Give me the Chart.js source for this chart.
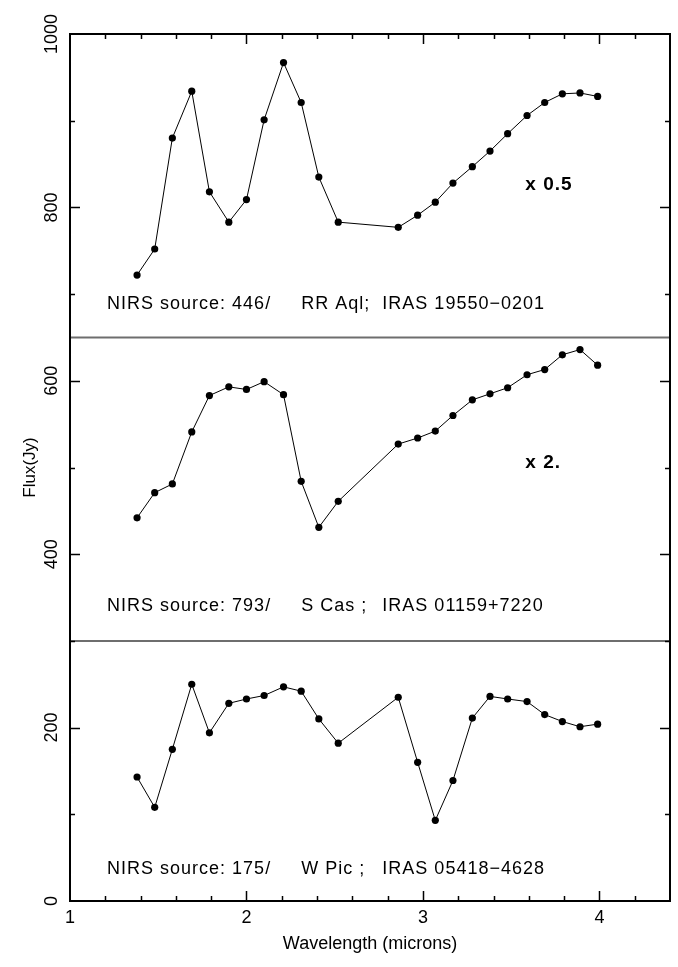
<!DOCTYPE html>
<html>
<head>
<meta charset="utf-8">
<script src="https://cdn.jsdelivr.net/npm/chart.js@4.4.1/dist/chart.umd.min.js"></script>
<style>
  html, body { margin: 0; padding: 0; background: #fff; }
  #wrap { width: 678px; height: 967px; position: relative; }
</style>
</head>
<body>
<div id="wrap"><canvas id="fluxChart"></canvas></div>
<script>
// wavelengths (microns), same grid for all three sources
const wavelengths = [1.38, 1.48, 1.58, 1.69, 1.79, 1.90, 2.00, 2.10, 2.21, 2.31, 2.41, 2.52,
  2.86, 2.97, 3.07, 3.17, 3.28, 3.38, 3.48, 3.59, 3.69, 3.79, 3.89, 3.99];

// flux values as plotted (already scaled / offset in the panels)
const rrAql = [722, 752, 880, 934, 818, 783, 809, 901, 967, 921, 835, 783,
  777, 791, 806, 828, 847, 865, 885, 906, 921, 931, 932, 928];
const sCas = [442, 471, 481, 541, 583, 593, 590, 599, 584, 484, 431, 461,
  527, 534, 542, 560, 578, 585, 592, 607, 613, 630, 636, 618];
const wPic = [143, 108, 175, 250, 194, 228, 233, 237, 247, 242, 210, 182,
  235, 160, 93, 139, 211, 236, 233, 230, 215, 207, 201, 204];

const panelBreaks = [650, 300];

const xTicks = [1, 2, 3, 4];
const yTicks = [0, 200, 400, 600, 800, 1000];

// label pieces: [x, y, text]
const sourceLabels = [
  [1.21, 688, "NIRS source: 446/"], [2.31, 688, "RR Aql;"], [2.77, 688, "IRAS 19550\u22120201"],
  [1.21, 340, "NIRS source: 793/"], [2.31, 340, "S Cas ;"], [2.77, 340, "IRAS 01159+7220"],
  [1.21, 37, "NIRS source: 175/"], [2.31, 37, "W Pic ;"], [2.77, 37, "IRAS 05418\u22124628"]
];
const scaleLabels = [[3.58, 826, "x 0.5"], [3.58, 505, "x 2."]];

const FONT = "Liberation Sans, Arial, Helvetica, sans-serif";

function toPoints(values) {
  return values.map((v, i) => ({ x: wavelengths[i], y: v }));
}

function seriesDataset(values) {
  return {
    data: toPoints(values),
    showLine: true,
    borderColor: "#000",
    borderWidth: 1,
    backgroundColor: "#000",
    pointBackgroundColor: "#000",
    pointBorderWidth: 0,
    pointRadius: 3.6,
    tension: 0
  };
}

function breakDataset(y) {
  return {
    data: [{ x: 1, y: y }, { x: 4.4, y: y }],
    showLine: true,
    borderColor: "#6e6e6e",
    borderWidth: 2,
    pointRadius: 0,
    tension: 0
  };
}

const framePlugin = {
  id: "frame",
  afterDraw(chart) {
    const ctx = chart.ctx;
    const area = chart.chartArea;
    const xs = chart.scales.x;
    const ys = chart.scales.y;

    ctx.save();
    ctx.strokeStyle = "#000";
    ctx.lineWidth = 2;
    ctx.strokeRect(area.left, area.top, area.right - area.left, area.bottom - area.top);

    // inward ticks on all four sides
    ctx.lineWidth = 1.5;
    for (let v = 1.2; v < 4.4; v += 0.2) {
      const px = Math.round(xs.getPixelForValue(v)) + 0.5;
      const major = Math.abs(v - Math.round(v)) < 0.01;
      const len = major ? 10 : 5;
      ctx.beginPath();
      ctx.moveTo(px, area.bottom); ctx.lineTo(px, area.bottom - len);
      ctx.moveTo(px, area.top); ctx.lineTo(px, area.top + len);
      ctx.stroke();
    }
    for (let v = 100; v < 1000; v += 100) {
      const py = Math.round(ys.getPixelForValue(v)) + 0.5;
      const len = v % 200 === 0 ? 10 : 5;
      ctx.beginPath();
      ctx.moveTo(area.left, py); ctx.lineTo(area.left + len, py);
      ctx.moveTo(area.right, py); ctx.lineTo(area.right - len, py);
      ctx.stroke();
    }

    ctx.fillStyle = "#000";
    ctx.font = "18px " + FONT;
    ctx.textAlign = "center";
    ctx.textBaseline = "middle";
    xTicks.forEach(v => {
      ctx.fillText(String(v), xs.getPixelForValue(v), area.bottom + 17);
    });
    ctx.fillText("Wavelength (microns)", (area.left + area.right) / 2, area.bottom + 43);

    yTicks.forEach(v => {
      ctx.save();
      ctx.translate(52, ys.getPixelForValue(v));
      ctx.rotate(-Math.PI / 2);
      ctx.fillText(String(v), 0, 0);
      ctx.restore();
    });
    ctx.save();
    ctx.translate(30, (area.top + area.bottom) / 2);
    ctx.rotate(-Math.PI / 2);
    ctx.font = "17px " + FONT;
    ctx.fillText("Flux(Jy)", 0, 0);
    ctx.restore();

    ctx.textAlign = "left";
    ctx.font = "18px " + FONT;
    ctx.letterSpacing = "1px";
    sourceLabels.forEach(([x, y, text]) => {
      ctx.fillText(text, xs.getPixelForValue(x), ys.getPixelForValue(y));
    });
    ctx.font = "bold 19px " + FONT;
    scaleLabels.forEach(([x, y, text]) => {
      ctx.fillText(text, xs.getPixelForValue(x), ys.getPixelForValue(y));
    });
    ctx.restore();
  }
};

new Chart(document.getElementById("fluxChart"), {
  type: "scatter",
  data: {
    datasets: [
      breakDataset(panelBreaks[0]),
      breakDataset(panelBreaks[1]),
      seriesDataset(rrAql),
      seriesDataset(sCas),
      seriesDataset(wPic)
    ]
  },
  options: {
    responsive: true,
    maintainAspectRatio: false,
    animation: false,
    layout: { padding: { left: 70, right: 8, top: 34, bottom: 66 } },
    plugins: {
      legend: { display: false },
      tooltip: { enabled: false }
    },
    scales: {
      x: { type: "linear", min: 1, max: 4.4, display: false },
      y: { type: "linear", min: 0, max: 1000, display: false }
    }
  },
  plugins: [framePlugin]
});
</script>
</body>
</html>
